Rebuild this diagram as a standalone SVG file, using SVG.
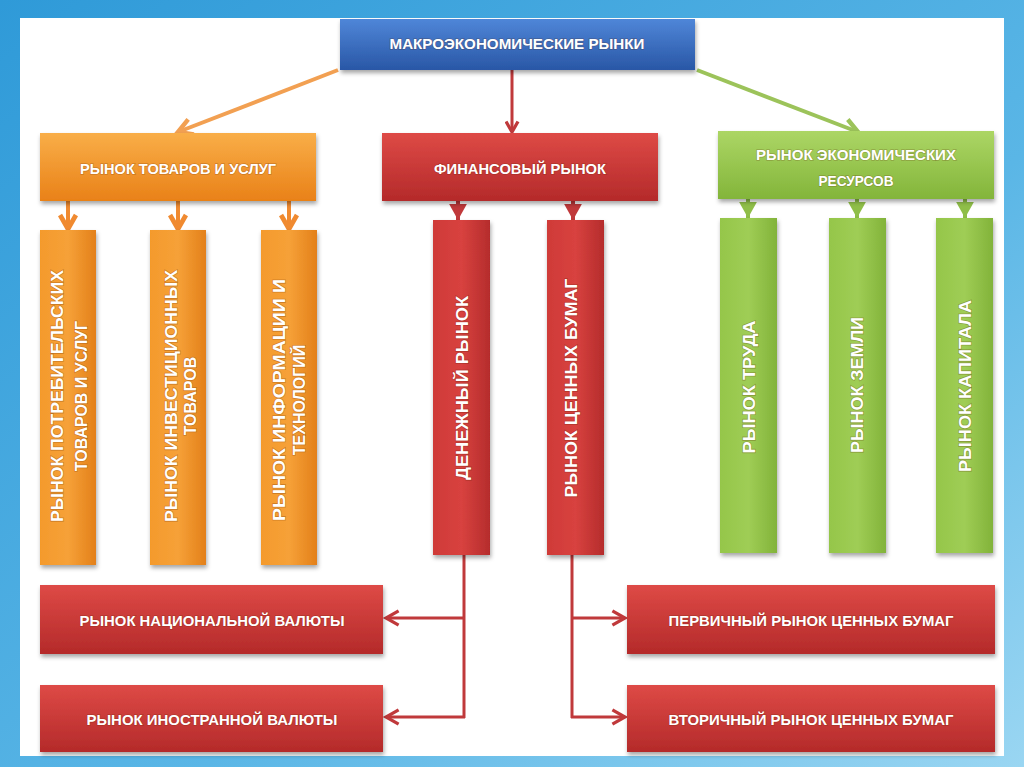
<svg xmlns="http://www.w3.org/2000/svg" width="1024" height="767" viewBox="0 0 1024 767">
<defs>
<linearGradient id="bg" x1="0" y1="0" x2="1" y2="1">
<stop offset="0" stop-color="#2f9ad8"/>
<stop offset="0.6" stop-color="#5ab6e6"/>
<stop offset="1" stop-color="#9ad6f2"/>
</linearGradient>
<linearGradient id="gBlue" x1="0" y1="0" x2="0" y2="1">
<stop offset="0" stop-color="#4f86d8"/>
<stop offset="1" stop-color="#2957a6"/>
</linearGradient>
<linearGradient id="gOrange" x1="0" y1="0" x2="0" y2="1">
<stop offset="0" stop-color="#f9ae48"/>
<stop offset="1" stop-color="#e98118"/>
</linearGradient>
<linearGradient id="gOrangeV" x1="0" y1="0" x2="1" y2="0">
<stop offset="0" stop-color="#f49a2c"/>
<stop offset="0.5" stop-color="#f6a138"/>
<stop offset="1" stop-color="#e3801a"/>
</linearGradient>
<linearGradient id="gRed" x1="0" y1="0" x2="0" y2="1">
<stop offset="0" stop-color="#de4a46"/>
<stop offset="1" stop-color="#b42a2a"/>
</linearGradient>
<linearGradient id="gRedV" x1="0" y1="0" x2="1" y2="0">
<stop offset="0" stop-color="#cf3a38"/>
<stop offset="0.5" stop-color="#d8423f"/>
<stop offset="1" stop-color="#b52c2c"/>
</linearGradient>
<linearGradient id="gGreen" x1="0" y1="0" x2="0" y2="1">
<stop offset="0" stop-color="#acd665"/>
<stop offset="1" stop-color="#83b53a"/>
</linearGradient>
<linearGradient id="gGreenV" x1="0" y1="0" x2="1" y2="0">
<stop offset="0" stop-color="#95c64a"/>
<stop offset="0.5" stop-color="#9fcd55"/>
<stop offset="1" stop-color="#82b33a"/>
</linearGradient>
<filter id="sh" x="-10%" y="-10%" width="120%" height="130%">
<feDropShadow dx="1" dy="3" stdDeviation="2" flood-color="#000" flood-opacity="0.35"/>
</filter>
<marker id="mO" viewBox="0 0 10 10" refX="8" refY="5" markerWidth="5" markerHeight="5" orient="auto">
<path d="M1,1 L8,5 L1,9" fill="none" stroke="#f2a052" stroke-width="2.2"/>
</marker>
<marker id="mR" viewBox="0 0 10 10" refX="8" refY="5" markerWidth="5" markerHeight="5" orient="auto">
<path d="M1,1 L8,5 L1,9" fill="none" stroke="#c0393b" stroke-width="2.2"/>
</marker>
<marker id="mG" viewBox="0 0 10 10" refX="8" refY="5" markerWidth="5" markerHeight="5" orient="auto">
<path d="M1,1 L8,5 L1,9" fill="none" stroke="#9cc35a" stroke-width="2.2"/>
</marker>
<marker id="mOs" viewBox="0 0 10 10" refX="8" refY="5" markerWidth="5" markerHeight="5" orient="auto">
<path d="M1,1 L8,5 L1,9" fill="none" stroke="#f08a30" stroke-width="2.4"/>
</marker>
<marker id="mRs" viewBox="0 0 10 10" refX="9" refY="5" markerWidth="4.5" markerHeight="4.5" orient="auto">
<path d="M0,0 L9,5 L0,10 Z" fill="#c0393b"/>
</marker>
<marker id="mGs" viewBox="0 0 10 10" refX="9" refY="5" markerWidth="4.5" markerHeight="4.5" orient="auto">
<path d="M0,0 L9,5 L0,10 Z" fill="#8fbe48"/>
</marker>
<marker id="mRb" viewBox="0 0 10 10" refX="8" refY="5" markerWidth="6" markerHeight="6" orient="auto">
<path d="M1,1 L8,5 L1,9" fill="none" stroke="#c0393b" stroke-width="1.8"/>
</marker>
</defs>
<style>
.t{font-family:"Liberation Sans",Arial,sans-serif;font-weight:bold;fill:#fff;text-anchor:middle;paint-order:stroke;stroke:rgba(90,30,0,0.25);stroke-width:1.5px}
.h{font-size:15px}
.v{font-size:16px}
.co{stroke:#f2a052;stroke-width:4;fill:none}
.cr{stroke:#c0393b;stroke-width:3;fill:none}
.cg{stroke:#9cc35a;stroke-width:4;fill:none}
.so{stroke:#f08a30;stroke-width:4;fill:none}
.sr{stroke:#c0393b;stroke-width:4;fill:none}
.sg{stroke:#8fbe48;stroke-width:4;fill:none}
</style>
<rect x="0" y="0" width="1024" height="767" fill="url(#bg)"/>
<rect x="20" y="18" width="984" height="738" fill="#ffffff"/>

<g id="connectors">
<line class="co" x1="338" y1="70" x2="178" y2="132" marker-end="url(#mO)"/>
<line class="cr" x1="512" y1="70" x2="512" y2="132" marker-end="url(#mR)"/>
<line class="cg" x1="697" y1="70" x2="858" y2="132" marker-end="url(#mG)"/>
<line class="so" x1="68" y1="201" x2="68" y2="229" marker-end="url(#mOs)"/>
<line class="so" x1="178" y1="201" x2="178" y2="229" marker-end="url(#mOs)"/>
<line class="so" x1="289" y1="201" x2="289" y2="229" marker-end="url(#mOs)"/>
<line class="sr" x1="458" y1="201" x2="458" y2="220" marker-end="url(#mRs)"/>
<line class="sr" x1="573" y1="201" x2="573" y2="220" marker-end="url(#mRs)"/>
<line class="sg" x1="748" y1="199" x2="748" y2="218" marker-end="url(#mGs)"/>
<line class="sg" x1="857" y1="199" x2="857" y2="218" marker-end="url(#mGs)"/>
<line class="sg" x1="965" y1="199" x2="965" y2="218" marker-end="url(#mGs)"/>
<path class="cr" d="M464,555 L464,718"/>
<line class="cr" x1="465" y1="618" x2="386" y2="618" marker-end="url(#mRb)"/>
<line class="cr" x1="465" y1="717" x2="386" y2="717" marker-end="url(#mRb)"/>
<path class="cr" d="M572,555 L572,718"/>
<line class="cr" x1="571" y1="618" x2="625" y2="618" marker-end="url(#mRb)"/>
<line class="cr" x1="571" y1="717" x2="625" y2="717" marker-end="url(#mRb)"/>
</g>

<g id="n-macro">
<rect x="340" y="19" width="355" height="51" fill="url(#gBlue)" filter="url(#sh)"/>
<text class="t h" x="517" y="49" textLength="255" lengthAdjust="spacingAndGlyphs">МАКРОЭКОНОМИЧЕСКИЕ РЫНКИ</text>
</g>
<g id="n-goods">
<rect x="40" y="133" width="276" height="68" fill="url(#gOrange)" filter="url(#sh)"/>
<text class="t h" x="178" y="174" textLength="196" lengthAdjust="spacingAndGlyphs">РЫНОК ТОВАРОВ И УСЛУГ</text>
</g>
<g id="n-fin">
<rect x="382" y="133" width="276" height="68" fill="url(#gRed)" filter="url(#sh)"/>
<text class="t h" x="520" y="174" textLength="172" lengthAdjust="spacingAndGlyphs">ФИНАНСОВЫЙ РЫНОК</text>
</g>
<g id="n-res">
<rect x="718" y="131" width="276" height="68" fill="url(#gGreen)" filter="url(#sh)"/>
<text class="t h" x="856" y="160" textLength="200" lengthAdjust="spacingAndGlyphs">РЫНОК ЭКОНОМИЧЕСКИХ</text>
<text class="t h" x="856" y="186" textLength="75" lengthAdjust="spacingAndGlyphs">РЕСУРСОВ</text>
</g>

<g id="n-consumer">
<rect x="40" y="230" width="56" height="335" fill="url(#gOrangeV)" filter="url(#sh)"/>
<g transform="translate(68,396) rotate(-90)">
<text class="t v" x="0" y="-5" textLength="252" lengthAdjust="spacingAndGlyphs">РЫНОК ПОТРЕБИТЕЛЬСКИХ</text>
<text class="t v" x="0" y="19">ТОВАРОВ И УСЛУГ</text>
</g>
</g>
<g id="n-invest">
<rect x="150" y="230" width="56" height="335" fill="url(#gOrangeV)" filter="url(#sh)"/>
<g transform="translate(178,396) rotate(-90)">
<text class="t v" x="0" y="-1" textLength="252" lengthAdjust="spacingAndGlyphs">РЫНОК ИНВЕСТИЦИОННЫХ</text>
<text class="t v" x="0" y="18">ТОВАРОВ</text>
</g>
</g>
<g id="n-info">
<rect x="261" y="230" width="56" height="335" fill="url(#gOrangeV)" filter="url(#sh)"/>
<g transform="translate(289,400) rotate(-90)">
<text class="t v" x="0" y="-4" textLength="242" lengthAdjust="spacingAndGlyphs">РЫНОК ИНФОРМАЦИИ И</text>
<text class="t v" x="0" y="16">ТЕХНОЛОГИЙ</text>
</g>
</g>

<g id="n-money">
<rect x="433" y="220" width="57" height="335" fill="url(#gRedV)" filter="url(#sh)"/>
<g transform="translate(461,388) rotate(-90)">
<text class="t v" x="0" y="7" textLength="184" lengthAdjust="spacingAndGlyphs">ДЕНЕЖНЫЙ РЫНОК</text>
</g>
</g>
<g id="n-securities">
<rect x="547" y="220" width="57" height="335" fill="url(#gRedV)" filter="url(#sh)"/>
<g transform="translate(575,388) rotate(-90)">
<text class="t v" x="0" y="2" textLength="219" lengthAdjust="spacingAndGlyphs">РЫНОК ЦЕННЫХ БУМАГ</text>
</g>
</g>

<g id="n-labor">
<rect x="720" y="218" width="57" height="335" fill="url(#gGreenV)" filter="url(#sh)"/>
<g transform="translate(749,387) rotate(-90)">
<text class="t v" x="0" y="6" textLength="133" lengthAdjust="spacingAndGlyphs">РЫНОК ТРУДА</text>
</g>
</g>
<g id="n-land">
<rect x="829" y="218" width="57" height="335" fill="url(#gGreenV)" filter="url(#sh)"/>
<g transform="translate(857,385) rotate(-90)">
<text class="t v" x="0" y="6" textLength="136" lengthAdjust="spacingAndGlyphs">РЫНОК ЗЕМЛИ</text>
</g>
</g>
<g id="n-capital">
<rect x="936" y="218" width="57" height="335" fill="url(#gGreenV)" filter="url(#sh)"/>
<g transform="translate(965,386) rotate(-90)">
<text class="t v" x="0" y="6" textLength="172" lengthAdjust="spacingAndGlyphs">РЫНОК КАПИТАЛА</text>
</g>
</g>

<g id="n-national">
<rect x="40" y="585" width="343" height="69" fill="url(#gRed)" filter="url(#sh)"/>
<text class="t h" x="212" y="626" textLength="265" lengthAdjust="spacingAndGlyphs">РЫНОК НАЦИОНАЛЬНОЙ ВАЛЮТЫ</text>
</g>
<g id="n-foreign">
<rect x="40" y="685" width="343" height="67" fill="url(#gRed)" filter="url(#sh)"/>
<text class="t h" x="212" y="725" textLength="251" lengthAdjust="spacingAndGlyphs">РЫНОК ИНОСТРАННОЙ ВАЛЮТЫ</text>
</g>
<g id="n-primary">
<rect x="627" y="585" width="368" height="69" fill="url(#gRed)" filter="url(#sh)"/>
<text class="t h" x="811" y="626" textLength="285" lengthAdjust="spacingAndGlyphs">ПЕРВИЧНЫЙ РЫНОК ЦЕННЫХ БУМАГ</text>
</g>
<g id="n-secondary">
<rect x="627" y="685" width="368" height="67" fill="url(#gRed)" filter="url(#sh)"/>
<text class="t h" x="811" y="725" textLength="285" lengthAdjust="spacingAndGlyphs">ВТОРИЧНЫЙ РЫНОК ЦЕННЫХ БУМАГ</text>
</g>
</svg>
